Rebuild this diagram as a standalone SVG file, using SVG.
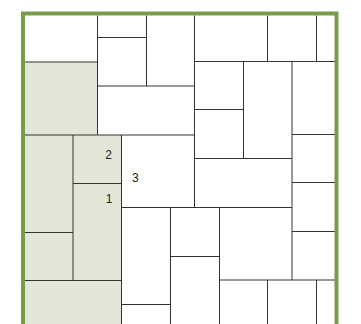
<svg xmlns="http://www.w3.org/2000/svg" width="361" height="324" viewBox="0 0 361 324">
<style>
.fill{fill:#e3e6d8;stroke:none}
.ln{stroke:#333;stroke-width:1;fill:none}
.frame{stroke:#789d4a;stroke-width:4;fill:none}
.lbl{font-family:"Liberation Sans",Arial,sans-serif;font-size:12px;fill:#222}
</style>
<rect width="361" height="324" fill="#fff"/>
<g id="shaded">
<rect class="fill" x="25" y="62" width="72.5" height="73"/>
<rect class="fill" x="25" y="135" width="96.5" height="189"/>
</g>
<g id="joints" class="ln">
<path d="M97.5,15.5V135M146.5,15.5V86M194.5,15.5V207.5M267.5,15.5V61.5M316.5,15.5V61.5M243.5,61.5V158.5M292,61.5V280M73,135V280.5M121.5,135V324M170.5,207.5V324M219.5,207.5V324M267.5,280V324M316.5,280V324"/>
<path d="M97.5,37.5H146.5M25,62H97.5M97.5,86H194.5M194.5,61.5H335M194.5,109.5H243.5M292,134.5H335M25,135H194.5M194.5,158.5H292M73,183.5H121.5M292,182.5H335M121.5,207.5H292M292,231.5H335M25,232.5H73M170.5,256.5H219.5M25,280.5H121.5M219.5,280H335M121.5,304.5H170.5"/>
</g>
<g id="frame">
<path class="frame" d="M23,324V13.5H336.5V324"/>
</g>
<g id="labels" class="lbl">
<text x="112" y="159" text-anchor="end">2</text>
<text x="132" y="181.5">3</text>
<text x="112.5" y="203.3" text-anchor="end">1</text>
</g>
</svg>
